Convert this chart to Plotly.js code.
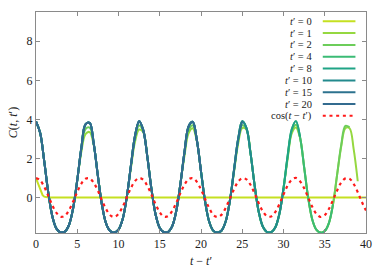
<!DOCTYPE html>
<html>
<head>
<meta charset="utf-8">
<script src="https://cdn.plot.ly/plotly-3.0.1.min.js"></script>
<style>html,body{margin:0;padding:0;background:#fff;}#chart{width:387px;height:271px;}</style>
</head>
<body>
<div id="chart"></div>
<script>
// ---- data ----
const tPrimes = [0, 1, 2, 4, 8, 10, 15, 20];
const seriesColors = ['#c5e021', '#95d840', '#6ccd5a', '#3bbb75', '#20a486', '#238a8d', '#2c728e', '#336b8f'];

const tGrid = [0,0.5,1,1.5,2,2.5,3,3.5,4,4.5,5,5.5,6,6.5,7,7.5,8,8.5,9,9.5,
  10,10.5,11,11.5,12,12.5,13,13.5,14,14.5,15,15.5,16,16.5,17,17.5,18,18.5,19,19.5,
  20,20.5,21,21.5,22,22.5,23,23.5,24,24.5,25,25.5,26,26.5,27,27.5,28,28.5,29,29.5,
  30,30.5,31,31.5,32,32.5,33,33.5,34,34.5,35,35.5,36,36.5,37,37.5,38,38.5,39,39.5,40];

// t' = 0 : fast decay to zero
const t0Times = [0, 0.2, 0.4, 0.6, 0.8, 1.0, 1.2, 1.5, 2, 40];
const c0Vals  = [0.98, 0.75, 0.50, 0.28, 0.12, 0.04, 0.01, 0, 0, 0];

// t' = 1 (t - t' from 0 to 39)
const c1Vals = [3.90,3.31,1.85,0.21,-1.00,-1.61,-1.79,-1.75,-1.41,-0.55,
  0.89,2.35,3.25,3.35,2.68,1.11,-0.39,-1.34,-1.72,-1.80,
  -1.65,-1.12,0.01,1.50,2.85,3.48,3.35,2.07,0.41,-0.88,
  -1.56,-1.78,-1.77,-1.48,-0.70,0.68,2.15,3.30,3.55,2.88,
  1.34,-0.22,-1.25,-1.71,-1.80,-1.69,-1.22,-0.17,1.30,2.75,
  3.55,3.48,2.28,0.62,-0.74,-1.50,-1.77,-1.78,-1.54,-0.84,
  0.46,1.98,3.28,3.58,3.06,1.56,-0.04,-1.15,-1.66,-1.80,
  -1.72,-1.31,-0.35,1.17,2.62,3.55,3.55,2.49,0.83];

// t' = 2 (t - t' from 0 to 38)
const c2Vals = [3.90,3.31,1.85,0.21,-1.00,-1.61,-1.79,-1.75,-1.41,-0.55,
  0.89,2.45,3.50,3.58,2.72,1.11,-0.39,-1.34,-1.72,-1.80,
  -1.65,-1.12,0.01,1.56,3.00,3.68,3.40,2.07,0.41,-0.88,
  -1.56,-1.78,-1.77,-1.48,-0.70,0.68,2.25,3.45,3.70,2.91,
  1.34,-0.22,-1.25,-1.71,-1.80,-1.69,-1.22,-0.17,1.35,2.86,
  3.70,3.52,2.28,0.62,-0.74,-1.50,-1.77,-1.78,-1.54,-0.84,
  0.46,2.05,3.38,3.72,3.08,1.56,-0.04,-1.15,-1.66,-1.80,
  -1.72,-1.31,-0.35,1.17,2.70,3.67,3.60];

// t' >= 4 : curves coincide (each drawn up to t - t' = 40 - t')
const cLateVals = [3.90,3.31,1.85,0.21,-1.00,-1.61,-1.79,-1.75,-1.41,-0.55,
  0.89,2.55,3.74,3.82,2.75,1.11,-0.39,-1.34,-1.72,-1.80,
  -1.65,-1.12,0.01,1.62,3.15,3.91,3.45,2.07,0.41,-0.88,
  -1.56,-1.78,-1.77,-1.48,-0.70,0.68,2.34,3.64,3.87,2.93,
  1.34,-0.22,-1.25,-1.71,-1.80,-1.69,-1.22,-0.17,1.40,2.98,
  3.90,3.57,2.28,0.62,-0.74,-1.50,-1.77,-1.78,-1.54,-0.84,
  0.46,2.13,3.49,3.91,3.11,1.56,-0.04,-1.15,-1.66,-1.80,
  -1.72,-1.31,-0.35,1.17,2.80,3.84,3.70,2.49,0.83,-0.59,-1.43];

// reference cos(t - t')
const cosVals = [1.00,0.88,0.54,0.07,-0.42,-0.80,-0.99,-0.94,-0.65,-0.21,
  0.28,0.71,0.96,0.98,0.75,0.35,-0.15,-0.60,-0.91,-1.00,
  -0.84,-0.48,0.00,0.48,0.84,1.00,0.91,0.59,0.14,-0.35,
  -0.76,-0.98,-0.96,-0.70,-0.28,0.22,0.66,0.94,0.99,0.80,
  0.41,-0.08,-0.55,-0.90,-1.00,-0.88,-0.53,-0.06,0.42,0.81,
  0.99,0.93,0.65,0.20,-0.29,-0.71,-0.96,-0.97,-0.75,-0.34,
  0.15,0.61,0.91,1.00,0.83,0.47,-0.01,-0.49,-0.85,-1.00,
  -0.90,-0.59,-0.13,0.36,0.77,0.98,0.96,0.70,0.27,-0.23,-0.67];

const xTicks = [0, 5, 10, 15, 20, 25, 30, 35, 40];
const yTicks = [0, 2, 4, 6, 8];
const cosLabel = 'cos(<i>t</i> − <i>t</i>′)';

// ---- build traces ----
const serif = "'Liberation Serif', 'DejaVu Serif', serif";
const traces = [];
tPrimes.forEach((tp, i) => {
  let xs, ys, shape = 'spline';
  if (tp === 0) { xs = t0Times; ys = c0Vals; shape = 'linear'; }
  else if (tp === 1) { xs = tGrid.slice(0, c1Vals.length); ys = c1Vals; }
  else if (tp === 2) { xs = tGrid.slice(0, c2Vals.length); ys = c2Vals; }
  else {
    const n = tGrid.findIndex(v => v === 40 - tp) + 1;
    xs = tGrid.slice(0, n); ys = cLateVals.slice(0, n);
  }
  traces.push({
    x: xs, y: ys, type: 'scatter', mode: 'lines',
    name: '<i>t</i>′ = ' + tp,
    line: {color: seriesColors[i], width: 2, shape: shape, smoothing: 1},
    showlegend: false, hoverinfo: 'skip'
  });
});
traces.push({
  x: tGrid, y: cosVals, type: 'scatter', mode: 'lines', name: cosLabel,
  line: {color: '#ff1a1a', width: 2.2, dash: '3px,3.7px', shape: 'spline', smoothing: 1},
  showlegend: false, hoverinfo: 'skip'
});

// ---- manual legend (text right-aligned, sample line on the right) ----
const legendLabels = tPrimes.map(tp => '<i>t</i>′ = ' + tp).concat([cosLabel]);
const legendColors = seriesColors.concat(['#ff1a1a']);
const annotations = [], shapes = [];
const rowTop = 0.958, rowStep = 0.0535;
legendLabels.forEach((lab, i) => {
  const y = rowTop - i * rowStep;
  annotations.push({
    xref: 'paper', yref: 'paper', x: 0.838, y: y, xanchor: 'right', yanchor: 'middle',
    borderpad: 0,
    text: lab, showarrow: false, font: {family: serif, size: 10.5, color: '#222'}
  });
  const isCos = i === legendLabels.length - 1;
  shapes.push({
    type: 'line', xref: 'paper', yref: 'paper', x0: 0.869, x1: 0.968, y0: y, y1: y,
    line: {color: legendColors[i], width: 2, dash: isCos ? '3px,3.7px' : 'solid'}
  });
});

const axisCommon = {
  showgrid: false, zeroline: false, showline: true, linecolor: '#8a8a8a', linewidth: 1,
  mirror: 'ticks', ticks: 'inside', ticklen: 4, tickcolor: '#8a8a8a', tickwidth: 1,
  tickfont: {family: serif, size: 12, color: '#222'}
};

const layout = {
  width: 387, height: 271,
  margin: {l: 36, r: 21, t: 12, b: 38, pad: 0},
  paper_bgcolor: '#fff', plot_bgcolor: '#fff',
  showlegend: false,
  xaxis: Object.assign({}, axisCommon, {
    range: [0, 40], tickmode: 'array', tickvals: xTicks, ticktext: xTicks.map(String),
    title: {text: '<i>t</i> − <i>t</i>′', font: {family: serif, size: 12, color: '#222'}, standoff: 6}
  }),
  yaxis: Object.assign({}, axisCommon, {
    range: [-1.82, 9.5], tickmode: 'array', tickvals: yTicks, ticktext: yTicks.map(String),
    title: {text: '<i>C</i>(<i>t</i>, <i>t</i>′)', font: {family: serif, size: 12, color: '#222'}, standoff: 6}
  }),
  annotations: annotations,
  shapes: shapes
};

Plotly.newPlot('chart', traces, layout, {staticPlot: true, displayModeBar: false});
</script>
</body>
</html>
